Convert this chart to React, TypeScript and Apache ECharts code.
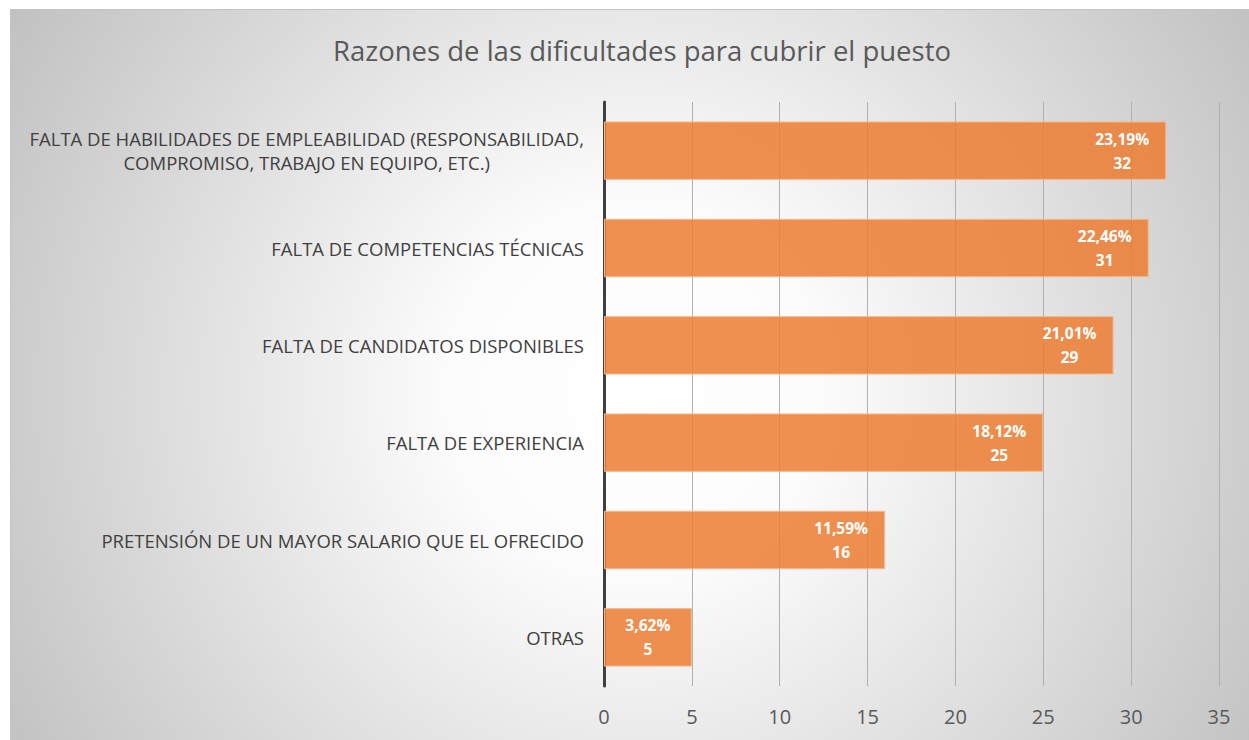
import React, { useEffect, useRef } from "react";
import * as echarts from "echarts";

const categories = [
  "FALTA DE HABILIDADES DE EMPLEABILIDAD (RESPONSABILIDAD,\nCOMPROMISO, TRABAJO EN EQUIPO, ETC.)",
  "FALTA DE COMPETENCIAS TÉCNICAS",
  "FALTA DE CANDIDATOS DISPONIBLES",
  "FALTA DE EXPERIENCIA",
  "PRETENSIÓN DE UN MAYOR SALARIO QUE EL OFRECIDO",
  "OTRAS",
];
const values = [32, 31, 29, 25, 16, 5];
const percents = ["23,19%", "22,46%", "21,01%", "18,12%", "11,59%", "3,62%"];
const xTicks = { min: 0, max: 35, interval: 5 };
const title = "Razones de las dificultades para cubrir el puesto";

export default function App() {
  const ref = useRef<HTMLDivElement>(null);
  useEffect(() => {
    if (!ref.current) return;
    const chart = echarts.init(ref.current, null, { renderer: "svg" });
    const font = "'Open Sans', 'Noto Sans', sans-serif";
    const catStyle = {
      color: "#404040",
      fontSize: 18.5,
      lineHeight: 24,
      fontFamily: font,
      align: "center",
    };
    chart.setOption({
      animation: false,
      textStyle: { fontFamily: font },
      graphic: {
        z: -10,
        elements: [
          {
            type: "rect",
            z: -10,
            silent: true,
            shape: { x: 10.5, y: 9.5, width: 1250, height: 740 },
            style: {
              fill: new echarts.graphic.RadialGradient(635, 390, 740, [
                { offset: 0, color: "#ffffff" },
                { offset: 0.25, color: "#fcfcfc" },
                { offset: 1, color: "#c0c0c0" },
              ], true),
              stroke: "#c4c4c4",
              lineWidth: 1,
            },
          },
        ],
      },
      title: {
        text: title,
        left: 637,
        top: 31,
        textAlign: "center",
        textStyle: { fontFamily: font, fontSize: 27.5, fontWeight: "normal", color: "#595959" },
      },
      grid: { left: 604, top: 102, right: 30, bottom: 54, containLabel: false },
      xAxis: {
        type: "value",
        min: xTicks.min,
        max: xTicks.max,
        interval: xTicks.interval,
        axisLine: { show: false },
        axisTick: { show: false },
        axisLabel: { color: "#595959", fontSize: 20, margin: 20, fontFamily: font },
        splitLine: { show: true, lineStyle: { color: "#b0b0b0", width: 1 } },
      },
      yAxis: {
        type: "category",
        data: categories,
        inverse: true,
        axisLine: { show: true, lineStyle: { color: "#404040", width: 3 } },
        axisTick: { show: false },
        axisLabel: {
          color: "#404040",
          fontSize: 18.5,
          margin: 20,
          lineHeight: 24,
          align: "right",
          fontFamily: font,
          formatter: (v: string) =>
            v
              .split("\n")
              .map((line) => "{c|" + line + "}")
              .join("\n"),
          rich: { c: catStyle },
        },
        splitLine: { show: false },
      },
      series: [
        {
          type: "bar",
          data: values,
          barCategoryGap: "40%",
          itemStyle: {
            color: "rgba(237,125,49,0.85)",
            borderColor: "#f6b98e",
            borderWidth: 1,
          },
          label: {
            show: true,
            position: "insideRight",
            distance: 44,
            align: "center",
            color: "#ffffff",
            fontWeight: "bold",
            fontSize: 15.5,
            lineHeight: 24,
            fontFamily: font,
            formatter: (p: any) => percents[p.dataIndex] + "\n" + p.value,
          },
        },
      ],
    });
    return () => chart.dispose();
  }, []);
  return (
    <div
      ref={ref}
      style={{ position: "absolute", left: 0, top: 0, width: 1249, height: 740 }}
    />
  );
}
